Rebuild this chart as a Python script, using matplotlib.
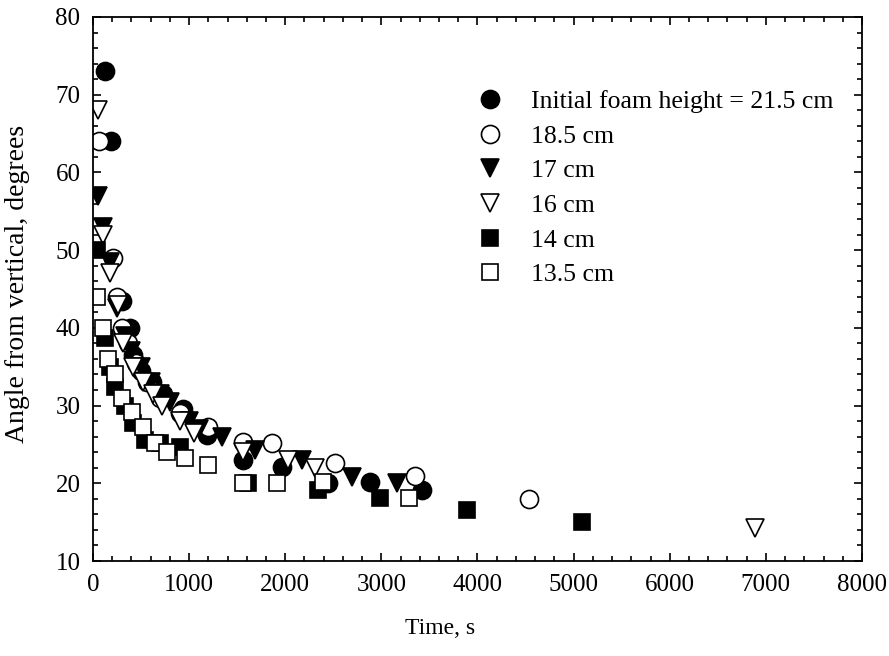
import matplotlib
matplotlib.use('Agg')
import matplotlib.pyplot as plt
from matplotlib.ticker import MultipleLocator

plt.rcParams['font.family'] = ['Liberation Serif', 'DejaVu Serif']

# initial foam height 21.5 cm (filled circles)
t_215 = [125, 185, 300, 380, 420, 500, 610, 730, 940, 1190, 1560, 1965, 2445, 2880, 3425]
a_215 = [73, 64, 43.5, 40, 36.5, 34.5, 33, 31.5, 29.5, 26.2, 23, 22.1, 20, 20.2, 19.1]
# 18.5 cm (open circles)
t_185 = [60, 210, 250, 300, 365, 450, 560, 700, 900, 1200, 1560, 1860, 2520, 3350, 4540]
a_185 = [64, 49, 44, 40, 38, 35.5, 33, 31, 29, 27.2, 25.3, 25.2, 22.6, 21, 18]
# 17 cm (filled triangles)
t_17 = [52, 104, 177, 250, 330, 400, 500, 600, 700, 800, 1000, 1100, 1342, 1686, 2175, 2695, 3163]
a_17 = [57, 53, 48.5, 42.5, 39, 37, 35, 33, 31.5, 30.5, 28, 27, 26, 24.3, 23, 20.8, 20]
# 16 cm (open triangles)
t_16 = [52, 104, 177, 260, 312, 420, 520, 620, 720, 900, 1050, 1560, 2030, 2310, 6890]
a_16 = [68, 52, 47, 43, 38, 35, 33, 31.5, 30, 28, 26.5, 24, 23, 22, 14.3]
# 14 cm (filled squares)
t_14 = [40, 125, 180, 230, 330, 420, 540, 700, 900, 1613, 2341, 2987, 3892, 5088]
a_14 = [50, 38.7, 35, 32.4, 30, 27.8, 25.6, 25.2, 24.7, 20, 19.1, 18.1, 16.6, 15]
# 13.5 cm (open squares)
t_135 = [40, 104, 156, 229, 302, 406, 520, 645, 770, 957, 1197, 1561, 1915, 2393, 3288]
a_135 = [44, 40, 36, 34, 31, 29.2, 27.2, 25.2, 24, 23.2, 22.3, 20, 20, 20.2, 18.1]

labels = ['Initial foam height = 21.5 cm', '18.5 cm', '17 cm', '16 cm', '14 cm', '13.5 cm']

fig = plt.figure(figsize=(8.89, 6.56), dpi=100)
ax = fig.add_axes([0.1046, 0.1448, 0.8650, 0.8293])

series = [
    (t_215, a_215, 'o', 'black', 13),
    (t_185, a_185, 'o', 'white', 13),
    (t_17, a_17, 'v', 'black', 13),
    (t_16, a_16, 'v', 'white', 13),
    (t_14, a_14, 's', 'black', 11.5),
    (t_135, a_135, 's', 'white', 11.5),
]
for (t, a, m, fc, ms), lab in zip(series, labels):
    ax.plot(t, a, linestyle='none', marker=m, markersize=ms, markerfacecolor=fc,
            markeredgecolor='black', markeredgewidth=1.2, label=lab)

ax.set_xlim(0, 8000)
ax.set_ylim(10, 80)
ax.xaxis.set_major_locator(MultipleLocator(1000))
ax.xaxis.set_minor_locator(MultipleLocator(200))
ax.yaxis.set_major_locator(MultipleLocator(10))
ax.yaxis.set_minor_locator(MultipleLocator(2))
ax.tick_params(which='both', direction='in', top=True, right=True, labelsize=18, width=1.2)
ax.tick_params(which='major', length=6, pad=9)
ax.tick_params(which='minor', length=3.5)
for s in ax.spines.values():
    s.set_linewidth(1.3)

ax.set_xlabel('Time, s', fontsize=17)
ax.xaxis.set_label_coords(0.451, -0.104)
ax.set_ylabel('Angle from vertical, degrees', fontsize=20)
ax.yaxis.set_label_coords(-0.082, 0.51)

ax.legend(loc='upper left', bbox_to_anchor=(0.47, 0.884), frameon=False, fontsize=18.5,
          handletextpad=0.6, labelspacing=0.45, numpoints=1, borderaxespad=0)

fig.savefig('out.png', dpi=100)
